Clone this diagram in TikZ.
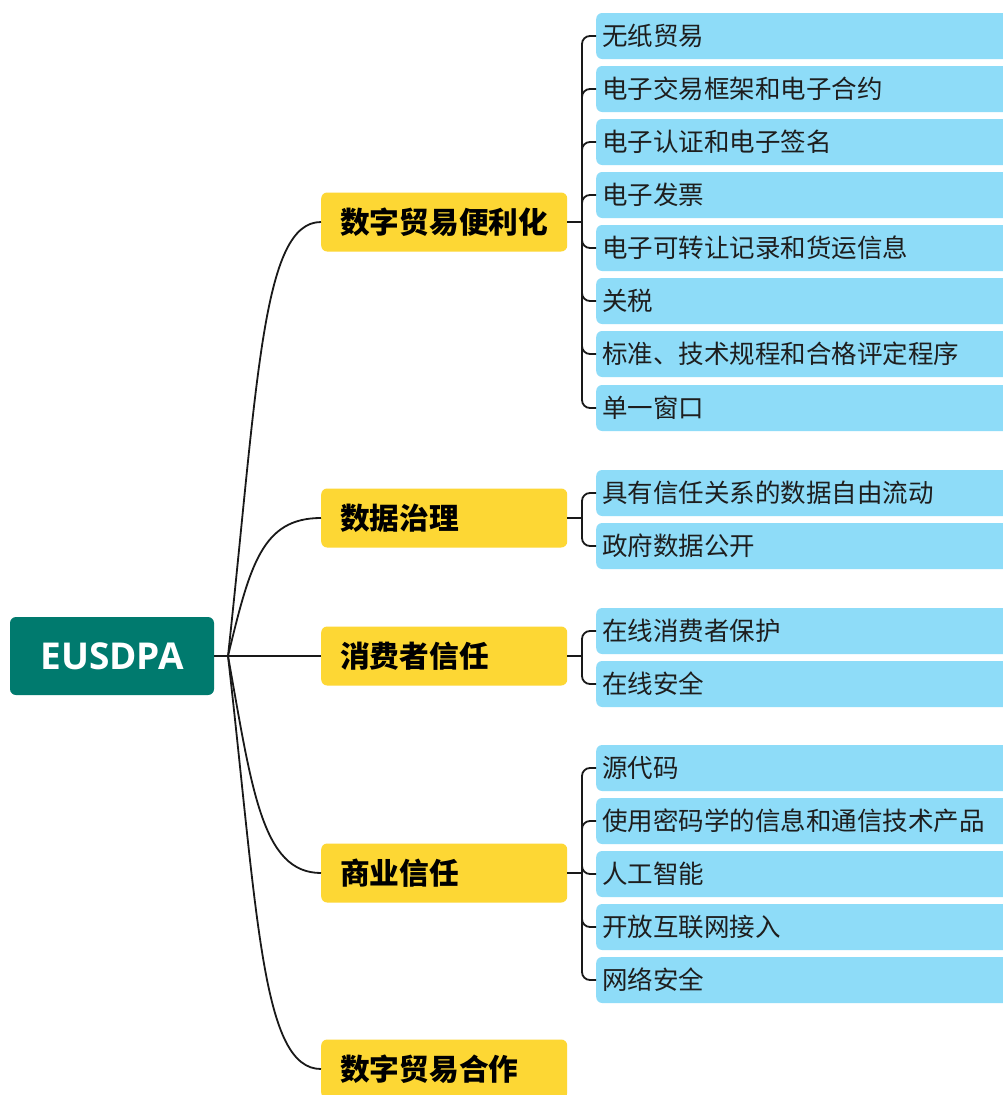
\documentclass[tikz,border=0pt]{standalone}
\usepackage{fontspec}
\newfontfamily\cjk{Noto Sans CJK SC}
\newfontfamily\latinb{Open Sans}
\definecolor{teal1}{RGB}{0,122,110}
\definecolor{yel}{RGB}{253,215,52}
\definecolor{lblue}{RGB}{142,220,248}
\definecolor{txt}{RGB}{30,30,30}
\begin{document}
\begin{tikzpicture}[x=1pt,y=-1pt,
  rootbox/.style={fill=teal1,rounded corners=6pt,minimum width=204pt,minimum height=78pt,inner sep=0pt,text=white,font=\latinb\bfseries\fontsize{37}{40}\selectfont},
  ybox/.style={fill=yel,rounded corners=6pt,anchor=west,minimum height=59pt,text width=208pt,inner xsep=19pt,inner ysep=0pt,align=left,font=\cjk\bfseries\fontsize{29.7}{32}\selectfont,text=black},
  lbox/.style={fill=lblue,rounded corners=6pt,anchor=west,minimum height=46pt,text width=420pt,inner xsep=6pt,inner ysep=0pt,align=left,font=\cjk\fontsize{25.5}{28}\selectfont,text=txt},
  conn/.style={draw=black!90,line width=1.8pt},
  bus/.style={draw=black!90,line width=1.8pt,rounded corners=8pt}]
\clip (0,0) rectangle (1003,1095);
\fill[white] (0,0) rectangle (1003,1095);
\node[rootbox] (root) at (112,656) {EUSDPA};
\coordinate (hub) at (228,656);

\node[ybox] (y1) at (321,222) {数字贸易便利化};
\node[ybox] (y2) at (321,518) {数据治理};
\node[ybox] (y3) at (321,656) {消费者信任};
\node[ybox] (y4) at (321,873) {商业信任};
\node[ybox] (y5) at (321,1069) {数字贸易合作};

\node[lbox] (a1) at (596,36) {无纸贸易};
\node[lbox] (a2) at (596,89) {电子交易框架和电子合约};
\node[lbox] (a3) at (596,142) {电子认证和电子签名};
\node[lbox] (a4) at (596,195) {电子发票};
\node[lbox] (a5) at (596,248) {电子可转让记录和货运信息};
\node[lbox] (a6) at (596,301) {关税};
\node[lbox] (a7) at (596,354) {标准、技术规程和合格评定程序};
\node[lbox] (a8) at (596,408) {单一窗口};

\node[lbox] (b1) at (596,493) {具有信任关系的数据自由流动};
\node[lbox] (b2) at (596,546) {政府数据公开};

\node[lbox] (c1) at (596,631) {在线消费者保护};
\node[lbox] (c2) at (596,684) {在线安全};

\node[lbox] (d1) at (596,768) {源代码};
\node[lbox] (d2) at (596,821) {使用密码学的信息和通信技术产品};
\node[lbox] (d3) at (596,874) {人工智能};
\node[lbox] (d4) at (596,927) {开放互联网接入};
\node[lbox] (d5) at (596,980) {网络安全};

% root connectors
\draw[conn] (root.east) -- (hub);
\draw[conn] (hub) .. controls (258,380) and (262,222) .. (y1.west);
\draw[conn] (hub) .. controls (250,565) and (262,518) .. (y2.west);
\draw[conn] (hub) -- (y3.west);
\draw[conn] (hub) .. controls (252,790) and (262,873) .. (y4.west);
\draw[conn] (hub) .. controls (258,920) and (262,1069) .. (y5.west);

% bus points
\coordinate (p1) at (582,222);
\coordinate (p2) at (582,518);
\coordinate (p3) at (582,656);
\coordinate (p4) at (582,873);

\draw[conn] (y1.east) -- (p1);
\draw[conn] (y2.east) -- (p2);
\draw[conn] (y3.east) -- (p3);
\draw[conn] (y4.east) -- (p4);

\foreach \n in {a1,a2,a3,a4,a5,a6,a7,a8} \draw[bus] (p1) |- (\n.west);
\foreach \n in {b1,b2} \draw[bus] (p2) |- (\n.west);
\foreach \n in {c1,c2} \draw[bus] (p3) |- (\n.west);
\foreach \n in {d1,d2,d3,d4,d5} \draw[bus] (p4) |- (\n.west);
\end{tikzpicture}
\end{document}
